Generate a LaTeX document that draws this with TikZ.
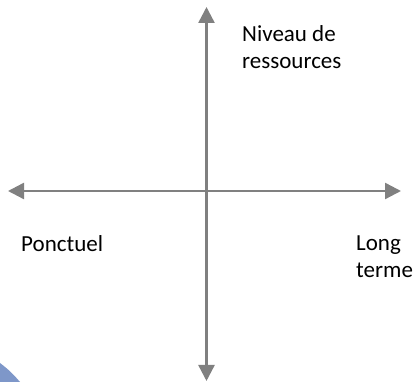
\documentclass[tikz,border=0pt]{standalone}
\usepackage{fontspec}
\setmainfont{Carlito}
\usepackage{xcolor}
\usetikzlibrary{arrows.meta}
\definecolor{axisgray}{RGB}{128,128,128}
\definecolor{cornerblue}{RGB}{126,151,201}

\begin{document}
\begin{tikzpicture}[x=1pt, y=1pt,
  axisline/.style={axisgray, line width=2.4pt, {Triangle[length=16pt,width=16pt]}-{Triangle[length=16pt,width=16pt]}},
  axistext/.style={font=\fontsize{23}{27}\selectfont, inner sep=0pt, align=left}]
  \useasboundingbox (0,0) rectangle (418,382);
  \fill[cornerblue] (0,0) -- (0,19) to[bend left=6] (20,0) -- cycle;
  \coordinate (up) at (206.5,375);
  \coordinate (down) at (206.5,1);
  \coordinate (west) at (8,191);
  \coordinate (east) at (401,191);
  \draw[axisline] (down) -- (up);
  \draw[axisline] (west) -- (east);
  \node[axistext, anchor=north west] (niveau) at (242,356.5) {Niveau de\\ressources};
  \node[axistext, anchor=north west] (ponctuel) at (21,146.8) {Ponctuel};
  \node[axistext, anchor=north west] (longterme) at (356,146.5) {Long\\terme};
\end{tikzpicture}
\end{document}
